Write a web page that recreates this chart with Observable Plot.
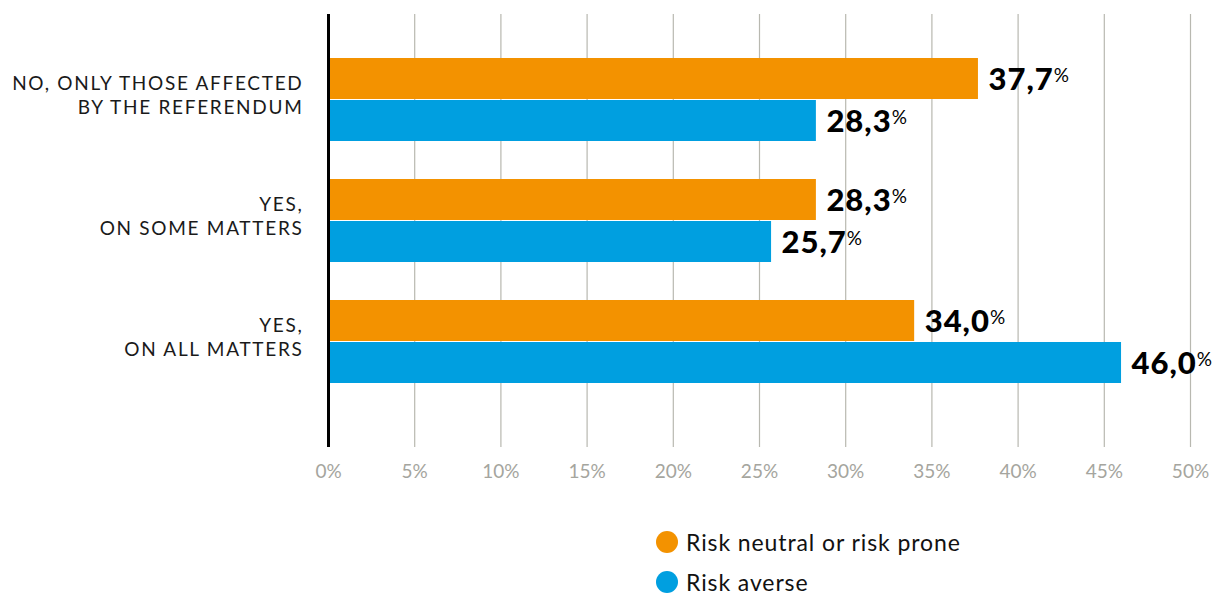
<!DOCTYPE html>
<html>
<head>
<meta charset="utf-8">
<script src="https://cdn.jsdelivr.net/npm/d3@7"></script>
<script src="https://cdn.jsdelivr.net/npm/@observablehq/plot@0.6"></script>
<style>
  body { margin: 0; background: #fff; font-family: Lato, "Open Sans", sans-serif; }
  #chart svg { display: block; }
  .legend { padding-left: 656px; margin-top: 22px; }
  .legend .row { display: flex; align-items: center; height: 40px; line-height: 1; font-size: 23px; letter-spacing: 0.9px; color: #111; }
  .legend .dot { width: 22px; height: 22px; border-radius: 50%; margin-right: 8px; }
</style>
</head>
<body>
<div id="chart"></div>
<div class="legend" id="legend"></div>
<script>
const categories = ["NO, ONLY THOSE AFFECTED\nBY THE REFERENDUM", "YES,\nON SOME MATTERS", "YES,\nON ALL MATTERS"];
const seriesNames = ["Risk neutral or risk prone", "Risk averse"];
const seriesColors = ["#f39200", "#009fe0"];
const neutral = [37.7, 28.3, 34.0];
const averse = [28.3, 25.7, 46.0];
const xTicks = [0, 5, 10, 15, 20, 25, 30, 35, 40, 45, 50];

const neutralData = categories.map((c, i) => ({cat: c, value: neutral[i]}));
const averseData = categories.map((c, i) => ({cat: c, value: averse[i]}));
const fmt = v => v.toFixed(1).replace(".", ",");
const half = 42;

const chart = Plot.plot({
  width: 1218,
  height: 500,
  marginLeft: 328,
  marginRight: 28,
  marginTop: 14,
  marginBottom: 53,
  style: {fontFamily: "Lato, sans-serif", background: "#fff"},
  x: {domain: [0, 50], ticks: xTicks, tickFormat: d => d + "%", grid: false, label: null},
  y: {domain: categories, range: [57, 385], paddingInner: 0.311, paddingOuter: 0, label: null},
  marks: [
    Plot.ruleX(xTicks.slice(1), {stroke: "#b8b8b0", strokeWidth: 1.2}),
    Plot.barX(neutralData, {x: "value", y: "cat", fill: seriesColors[0], insetBottom: half}),
    Plot.barX(averseData, {x: "value", y: "cat", fill: seriesColors[1], insetTop: half}),
    Plot.text(neutralData, {x: "value", y: "cat", text: d => fmt(d.value), dy: -half / 2 + 1, dx: 10, textAnchor: "start", fontSize: 31, fontWeight: 900, fill: "#000", className: "vlabel"}),
    Plot.text(averseData, {x: "value", y: "cat", text: d => fmt(d.value), dy: half / 2 + 1, dx: 10, textAnchor: "start", fontSize: 31, fontWeight: 900, fill: "#000", className: "vlabel"}),
    Plot.ruleX([0], {stroke: "#000", strokeWidth: 3}),
    Plot.axisX({ticks: xTicks, tickFormat: d => d + "%", tickSize: 0, tickPadding: 17, fontSize: 19, color: "#a5a59e", label: null}),
    Plot.axisY({tickSize: 0, tickPadding: 25, fontSize: 19, fill: "#1a1a1a", label: null, lineHeight: 1.28, dy: -6, className: "ylab"})
  ]
});

d3.select(chart).selectAll(".ylab text").style("letter-spacing", "1.7px");
d3.select(chart).selectAll(".vlabel text").style("letter-spacing", "1px").each(function() {
  d3.select(this).append("tspan")
    .attr("font-size", 19)
    .attr("font-weight", 400)
    .style("letter-spacing", "0px")
    .attr("dy", "-0.4em")
    .text("%");
});

document.getElementById("chart").appendChild(chart);

const legend = document.getElementById("legend");
seriesNames.forEach((name, i) => {
  const row = document.createElement("div");
  row.className = "row";
  const dot = document.createElement("span");
  dot.className = "dot";
  dot.style.background = seriesColors[i];
  const label = document.createElement("span");
  label.textContent = name;
  row.appendChild(dot);
  row.appendChild(label);
  legend.appendChild(row);
});
</script>
</body>
</html>
